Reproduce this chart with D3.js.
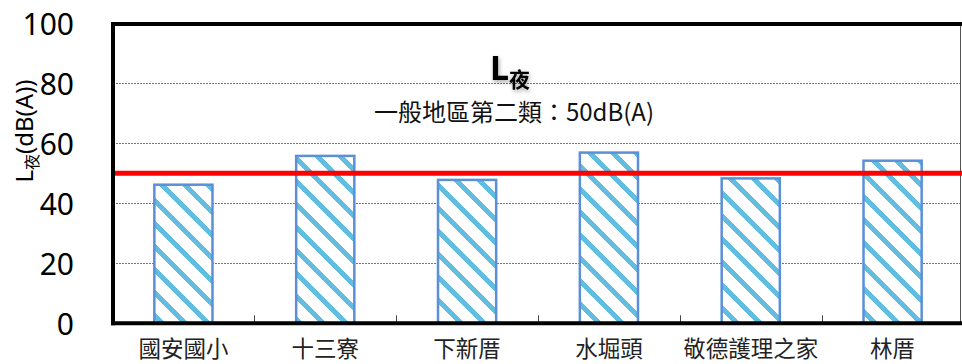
<!DOCTYPE html>
<html>
<head>
<meta charset="utf-8">
<script src="https://cdn.jsdelivr.net/npm/d3@7"></script>
<style>
  html, body { margin: 0; padding: 0; background: #fff; }
  svg { display: block; }
  text { font-family: "Noto Sans", "Noto Sans CJK TC", sans-serif; }
</style>
</head>
<body>
<script>
// Night-time noise level per monitoring station, with the Class 2 limit line
const stations = ["國安國小", "十三寮", "下新厝", "水堀頭", "敬德護理之家", "林厝"];
const nightLevels = [46.2, 55.8, 47.8, 56.9, 48.3, 54.2];
const limitLevel = 50;
const yTicks = [0, 20, 40, 60, 80, 100];
const titleMain = "L";
const titleSub = "夜";
const limitCaption = "一般地區第二類：50dB(A)";

const W = 962, H = 364;
const plot = { left: 113, right: 960.5, top: 24, bottom: 323.3 };

const svg = d3.select("body").append("svg").attr("width", W).attr("height", H);

const x = d3.scaleBand()
  .domain(stations)
  .range([112.5, 963.5])
  .paddingInner(0.59)
  .paddingOuter(0.295);

const y = d3.scaleLinear().domain([0, 100]).range([plot.bottom, 23.3]);

// diagonal hatch fill for the bars
const defs = svg.append("defs");
const pat = defs.append("pattern")
  .attr("id", "hatch")
  .attr("patternUnits", "userSpaceOnUse")
  .attr("width", 23).attr("height", 23);
pat.append("rect").attr("width", 23).attr("height", 23).attr("fill", "#fff");
pat.append("path")
  .attr("d", "M-6,-6 L29,29 M-6,17 L6,29 M17,-6 L29,6")
  .attr("stroke", "#62BEE0")
  .attr("stroke-width", 5.5)
  .attr("shape-rendering", "crispEdges");

const shadow = defs.append("filter").attr("id", "soft")
  .attr("x", "-20%").attr("y", "-20%").attr("width", "140%").attr("height", "160%");
shadow.append("feDropShadow").attr("dx", 1).attr("dy", 2).attr("stdDeviation", 2)
  .attr("flood-color", "#000").attr("flood-opacity", 0.35);

// gridlines
svg.append("g")
  .selectAll("line")
  .data(yTicks.filter(t => t > 0 && t < 100))
  .join("line")
  .attr("x1", plot.left).attr("x2", plot.right)
  .attr("y1", d => Math.round(y(d)) + 0.5).attr("y2", d => Math.round(y(d)) + 0.5)
  .attr("stroke", "#777")
  .attr("stroke-width", 1)
  .attr("stroke-dasharray", "2,1");

// right border
svg.append("line")
  .attr("x1", plot.right).attr("x2", plot.right)
  .attr("y1", plot.top).attr("y2", plot.bottom)
  .attr("stroke", "#555").attr("stroke-width", 1);

// bars
svg.append("g")
  .selectAll("rect")
  .data(stations)
  .join("rect")
  .attr("x", d => x(d))
  .attr("width", x.bandwidth())
  .attr("y", (d, i) => y(nightLevels[i]))
  .attr("height", (d, i) => plot.bottom - y(nightLevels[i]))
  .attr("fill", "url(#hatch)")
  .attr("stroke", "#5B8FD8")
  .attr("stroke-width", 2.5);

// limit line
svg.append("line")
  .attr("x1", plot.left).attr("x2", W)
  .attr("y1", y(limitLevel)).attr("y2", y(limitLevel))
  .attr("stroke", "#FF0000")
  .attr("stroke-width", 5);

// category boundary ticks
const step = x.step();
svg.append("g")
  .selectAll("line")
  .data(d3.range(1, stations.length))
  .join("line")
  .attr("x1", i => Math.round(112.5 + step * i) + 0.5)
  .attr("x2", i => Math.round(112.5 + step * i) + 0.5)
  .attr("y1", plot.bottom - 8).attr("y2", plot.bottom)
  .attr("stroke", "#444").attr("stroke-width", 1);

// frame: top, left and bottom axis lines
svg.append("line")
  .attr("x1", 111).attr("x2", W)
  .attr("y1", 24).attr("y2", 24)
  .attr("stroke", "#000").attr("stroke-width", 4);
svg.append("line")
  .attr("x1", 113).attr("x2", 113)
  .attr("y1", 22).attr("y2", plot.bottom + 2)
  .attr("stroke", "#000").attr("stroke-width", 4);
svg.append("line")
  .attr("x1", 111).attr("x2", W)
  .attr("y1", plot.bottom).attr("y2", plot.bottom)
  .attr("stroke", "#000").attr("stroke-width", 4);

// y axis labels
const yAxis = d3.axisLeft(y).tickValues(yTicks).tickSize(0).tickPadding(0);
const gy = svg.append("g").attr("transform", "translate(74,0)").call(yAxis);
gy.select(".domain").remove();
gy.selectAll("text")
  .attr("font-size", 30)
  .attr("fill", "#000")
  .attr("dy", "0.36em")
  .style("font-family", "'Noto Sans', sans-serif");

// x axis labels
const xAxis = d3.axisBottom(x).tickSize(0).tickPadding(0);
const gx = svg.append("g").attr("transform", `translate(0,${plot.bottom})`).call(xAxis);
gx.select(".domain").remove();
gx.selectAll("text")
  .attr("font-size", 22.5)
  .attr("fill", "#222")
  .attr("y", 34)
  .attr("dy", 0)
  .style("font-family", "'Noto Sans CJK TC', sans-serif");

// y axis title
const yt = svg.append("text")
  .attr("transform", "translate(33,131) rotate(-90)")
  .attr("text-anchor", "middle")
  .attr("font-size", 24)
  .attr("fill", "#000");
yt.append("tspan").text("L");
yt.append("tspan").text("夜").attr("font-size", 16).attr("dy", 5)
  .style("font-family", "'Noto Sans CJK TC', sans-serif");
yt.append("tspan").text("(dB(A))").attr("dy", -5);

// chart title
const tt = svg.append("text")
  .attr("x", 510).attr("y", 80)
  .attr("text-anchor", "middle")
  .attr("font-weight", "bold")
  .attr("font-size", 34)
  .attr("fill", "#000")
  .attr("filter", "url(#soft)");
tt.append("tspan").text(titleMain);
tt.append("tspan").text(titleSub).attr("font-size", 21).attr("dy", 7)
  .style("font-family", "'Noto Sans CJK TC', sans-serif");

svg.append("text")
  .attr("x", 514).attr("y", 121)
  .attr("text-anchor", "middle")
  .attr("font-size", 24)
  .attr("fill", "#111")
  .style("font-family", "'Noto Sans CJK TC', sans-serif")
  .text(limitCaption);
</script>
</body>
</html>
